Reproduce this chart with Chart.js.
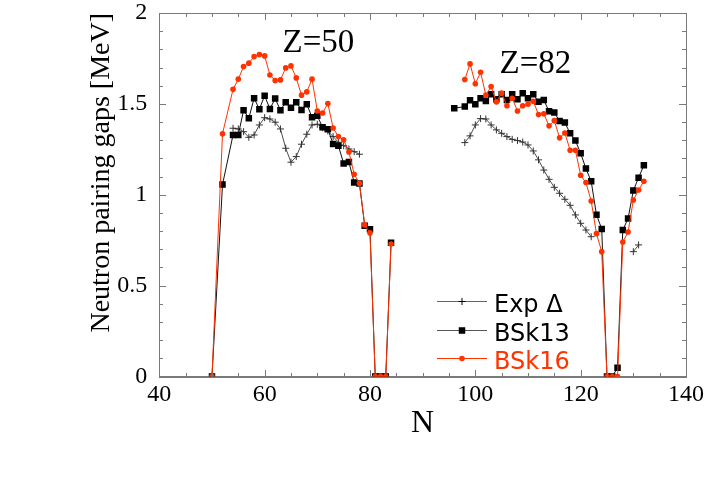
<!DOCTYPE html>
<html><head><meta charset="utf-8">
<script src="https://cdn.jsdelivr.net/npm/chart.js@4"></script>
<style>html,body{margin:0;padding:0;background:#fff}</style>
</head><body>
<canvas id="c" width="708" height="490"></canvas>
<script>
// ---- data (N, neutron pairing gap in MeV) ----
const expN50 = [54,55,56,57,58,59,60,61,62,63,64,65,66,67,68,69,70,71,72,73,74,75,76,77,78];
const expGap50 = [1.366,1.362,1.347,1.316,1.329,1.384,1.424,1.417,1.399,1.362,1.256,1.179,1.21,1.278,1.333,1.384,1.388,1.369,1.351,1.32,1.289,1.27,1.252,1.237,1.223];
const expN82 = [98,99,100,101,102,103,104,105,106,107,108,109,110,111,112,113,114,115,116,117,118,119,120,121,122];
const expGap82 = [1.287,1.324,1.384,1.419,1.417,1.384,1.357,1.338,1.32,1.305,1.298,1.29,1.274,1.241,1.192,1.136,1.085,1.041,1.008,0.975,0.942,0.889,0.843,0.806,0.769];
const expN82b = [130,131];
const expGap82b = [0.687,0.724];

const bsk13N50 = [50,52,54,55,56,57,58,59,60,61,62,63,64,65,66,67,68,69,70,71,72,73,74,75,76,77,78,79,80,81,82,83,84];
const bsk13Gap50 = [0,1.056,1.329,1.329,1.465,1.421,1.531,1.471,1.545,1.472,1.529,1.465,1.509,1.479,1.509,1.466,1.498,1.426,1.434,1.371,1.361,1.279,1.27,1.172,1.18,1.067,1.062,0.83,0.81,0,0,0,0.736];
const bsk13N82 = [96,98,99,100,101,102,103,104,105,106,107,108,109,110,111,112,113,114,115,116,117,118,119,120,121,122,123,124,125,126,127,128,129,130,131,132];
const bsk13Gap82 = [1.476,1.485,1.52,1.498,1.531,1.516,1.553,1.526,1.553,1.521,1.553,1.526,1.559,1.531,1.553,1.512,1.521,1.459,1.452,1.406,1.397,1.338,1.298,1.228,1.144,1.074,0.89,0.812,0,0,0.048,0.806,0.869,1.023,1.094,1.162];

const bsk16N50 = [50,52,54,55,56,57,58,59,60,61,62,63,64,65,66,67,68,69,70,71,72,73,74,75,76,77,78,79,80,81,82,83,84];
const bsk16Gap50 = [0,1.336,1.58,1.636,1.705,1.724,1.76,1.771,1.764,1.659,1.628,1.632,1.698,1.709,1.643,1.548,1.566,1.636,1.461,1.45,1.502,1.367,1.32,1.302,1.235,1.113,1.063,0.834,0.79,0,0,0,0.729];
const bsk16N82 = [98,99,100,101,102,103,104,105,106,107,108,109,110,111,112,113,114,115,116,117,118,119,120,121,122,123,124,125,126,127,128,129,130,131,132];
const bsk16Gap82 = [1.634,1.72,1.611,1.674,1.548,1.595,1.511,1.559,1.49,1.531,1.461,1.49,1.498,1.514,1.441,1.446,1.379,1.408,1.313,1.34,1.245,1.245,1.107,1.067,0.966,0.786,0.687,0,0,0,0.74,0.795,0.971,1.026,1.074];

const seriesLabels = ['Exp \u0394', 'BSk13', 'BSk16'];
const xTickValues = [40,60,80,100,120,140];
const yTickValues = [0,0.5,1,1.5,2];
const xMinorStep = 5;
const yMinorStep = 0.1;
const zLabels = ['Z=50','Z=82'];
const zLabelN = [63.4,104.6];
const zLabelGap = [1.788,1.669];

// ---- helpers ----
function segments(...pairs){
  const out=[];
  pairs.forEach(([ns,vs],k)=>{
    if(k>0){ out.push({x:(out[out.length-1].x+ns[0])/2, y:null}); }
    ns.forEach((n,i)=>out.push({x:n,y:vs[i]}));
  });
  return out;
}
const RED='#ff3300';
const FRAME='#7a7a7a';
const serif='"Liberation Serif", "Times New Roman", serif';

function drawMarker(ctx, style, x, y, r, color){
  ctx.save();
  ctx.fillStyle=color; ctx.strokeStyle=color; ctx.lineWidth=1;
  if(style==='rect'){ const s=r*Math.SQRT1_2; ctx.fillRect(x-s,y-s,2*s,2*s); }
  else if(style==='circle'){ ctx.beginPath(); ctx.arc(x,y,r,0,Math.PI*2); ctx.fill(); }
  else if(style==='cross'){ ctx.beginPath(); ctx.moveTo(x-r,y); ctx.lineTo(x+r,y); ctx.moveTo(x,y-r); ctx.lineTo(x,y+r); ctx.stroke(); }
  ctx.restore();
}

function drawFrame(chart){
  const ctx=chart.ctx, xs=chart.scales.x, ys=chart.scales.y;
  const L=Math.round(xs.getPixelForValue(40)), R=Math.round(xs.getPixelForValue(140));
  const T=Math.round(ys.getPixelForValue(2)), B=Math.round(ys.getPixelForValue(0));
  ctx.save();
  ctx.setTransform(1,0,0,1,0,0);
  ctx.globalAlpha=1;
  ctx.globalCompositeOperation='source-over';
  ctx.fillStyle=FRAME;
  ctx.fillRect(L,T,R-L+1,1);
  ctx.fillRect(L,B,R-L+1,1);
  ctx.fillRect(L,T,1,B-T+1);
  ctx.fillRect(R,T,1,B-T+1);
  const nx=Math.round((140-40)/xMinorStep);
  for(let i=0;i<=nx;i++){
    const v=40+i*xMinorStep;
    const p=Math.round(xs.getPixelForValue(v));
    const len=(v%20===0)?7:4;
    ctx.fillRect(p,B-len,1,len);
    ctx.fillRect(p,T,1,len);
  }
  const ny=Math.round(2/yMinorStep);
  for(let i=0;i<=ny;i++){
    const p=Math.round(ys.getPixelForValue(i*yMinorStep));
    const len=(i%5===0)?7:4;
    ctx.fillRect(L,p,len,1);
    ctx.fillRect(R-len,p,len,1);
  }
  ctx.restore();
}

const framePlugin={
  id:'frameTicks',
  beforeDatasetsDraw(chart){ drawFrame(chart); },
  afterRender(chart){ drawFrame(chart); }
};

const annotPlugin={
  id:'annot',
  afterDraw(chart){
    const ctx=chart.ctx, xs=chart.scales.x, ys=chart.scales.y;
    ctx.save();
    ctx.fillStyle='#000';
    ctx.font='33px '+serif;
    ctx.textBaseline='alphabetic'; ctx.textAlign='left';
    zLabels.forEach((t,i)=>ctx.fillText(t, xs.getPixelForValue(zLabelN[i]), ys.getPixelForValue(zLabelGap[i])));
    // legend
    const ds=chart.data.datasets;
    const x0=437, x1=487, tx=494, y0=301, dy=28.5;
    ctx.font='24px "DejaVu Sans", sans-serif';
    [0,1,2].forEach((k,i)=>{
      const d=ds[k]; const y=Math.round(y0+i*dy)+0.5;
      ctx.strokeStyle=d.legendLine; ctx.lineWidth=1;
      ctx.beginPath(); ctx.moveTo(x0,y); ctx.lineTo(x1,y); ctx.stroke();
      drawMarker(ctx, d.pointStyle, (x0+x1)/2, y, d.pointRadius, d.legendMarker);
      ctx.fillStyle=d.legendText;
      ctx.fillText(d.label, tx, y+10.5);
    });
    ctx.restore();
    drawFrame(chart);
  }
};

new Chart(document.getElementById('c'), {
  type:'line',
  data:{datasets:[
    {label:seriesLabels[0], data:segments([expN50,expGap50],[expN82,expGap82],[expN82b,expGap82b]),
     borderColor:'#222', borderWidth:0.8, pointStyle:'cross', pointRadius:3.5, pointBorderColor:'#333', pointBorderWidth:1,
     order:2, legendLine:'#666', legendMarker:'#000', legendText:'#000'},
    {label:seriesLabels[1], data:segments([bsk13N50,bsk13Gap50],[bsk13N82,bsk13Gap82]),
     borderColor:'#111', borderWidth:1, pointStyle:'rect', pointRadius:4.6, pointBackgroundColor:'#000', pointBorderColor:'#000', pointBorderWidth:0,
     order:1, legendLine:'#555', legendMarker:'#000', legendText:'#000'},
    {label:seriesLabels[2], data:segments([bsk16N50,bsk16Gap50],[bsk16N82,bsk16Gap82]),
     borderColor:RED, borderWidth:1, pointStyle:'circle', pointRadius:2.8, pointBackgroundColor:RED, pointBorderColor:RED, pointBorderWidth:0,
     order:0, legendLine:RED, legendMarker:RED, legendText:RED}
  ]},
  options:{
    responsive:false, animation:false, devicePixelRatio:1,
    spanGaps:false,
    layout:{padding:{top:0,right:19,bottom:0,left:0}},
    elements:{line:{tension:0}},
    plugins:{legend:{display:false}, tooltip:{enabled:false}},
    scales:{
      x:{type:'linear', min:40, max:140,
         afterBuildTicks(s){ s.ticks = xTickValues.map(v=>({value:v})); },
         ticks:{font:{family:serif,size:24}, color:'#000', padding:4, maxRotation:0, autoSkip:false, callback:v=>String(v)},
         grid:{display:false, drawTicks:false}, border:{display:true, color:FRAME, width:1},
         title:{display:true, text:'N', color:'#000', font:{family:serif,size:32}, padding:{top:0,bottom:47}},
         afterFit(s){ s.height=113.5; }},
      y:{type:'linear', min:0, max:2,
         afterBuildTicks(s){ s.ticks = yTickValues.map(v=>({value:v})); },
         ticks:{font:{family:serif,size:24}, color:'#000', padding:12, callback:v=>String(v)},
         grid:{display:false, drawTicks:false}, border:{display:true, color:FRAME, width:1},
         title:{display:true, text:'Neutron pairing gaps [MeV]', color:'#000', align:'end', font:{family:serif,size:28}, padding:{top:85,bottom:0}},
         afterFit(s){ s.width=159.3; s.paddingTop=13; s.paddingBottom=0; }}
    }
  },
  plugins:[framePlugin, annotPlugin]
});
</script>
</body></html>
